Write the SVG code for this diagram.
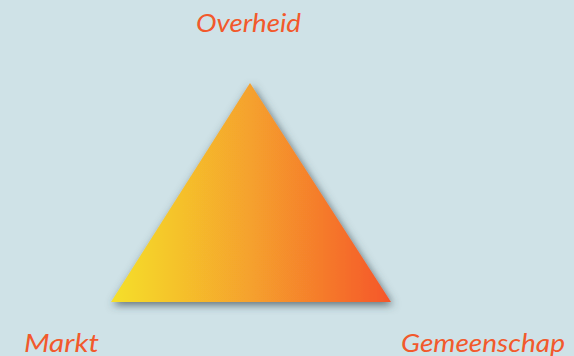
<svg xmlns="http://www.w3.org/2000/svg" width="574" height="356" viewBox="0 0 574 356">
<style>
.lbl{font-family:"Lato","Open Sans","Liberation Sans",sans-serif;font-style:italic;font-size:26px;fill:#f2592c}
</style>
<defs>
<linearGradient id="g" x1="111" y1="0" x2="391" y2="0" gradientUnits="userSpaceOnUse">
<stop offset="0" stop-color="#f5e02b"/>
<stop offset="0.5" stop-color="#f5a12d"/>
<stop offset="1" stop-color="#f5562b"/>
</linearGradient>
<filter id="sh" x="-20%" y="-20%" width="140%" height="140%">
<feGaussianBlur in="SourceAlpha" stdDeviation="4"/>
<feOffset dx="2" dy="3" result="b"/>
<feFlood flood-color="#3a4a50" flood-opacity="0.75"/>
<feComposite in2="b" operator="in"/>
<feMerge><feMergeNode/><feMergeNode in="SourceGraphic"/></feMerge>
</filter>
</defs>
<rect width="574" height="356" fill="#cfe2e7"/>
<g id="triangle">
<polygon points="250,83 391,302 111,302" fill="url(#g)" filter="url(#sh)"/>
</g>
<g id="overheid"><text class="lbl" x="196" y="32" textLength="105" lengthAdjust="spacingAndGlyphs">Overheid</text></g>
<g id="markt"><text class="lbl" x="24" y="352" textLength="75" lengthAdjust="spacingAndGlyphs">Markt</text></g>
<g id="gemeenschap"><text class="lbl" x="401" y="352" textLength="164" lengthAdjust="spacingAndGlyphs">Gemeenschap</text></g>
</svg>
